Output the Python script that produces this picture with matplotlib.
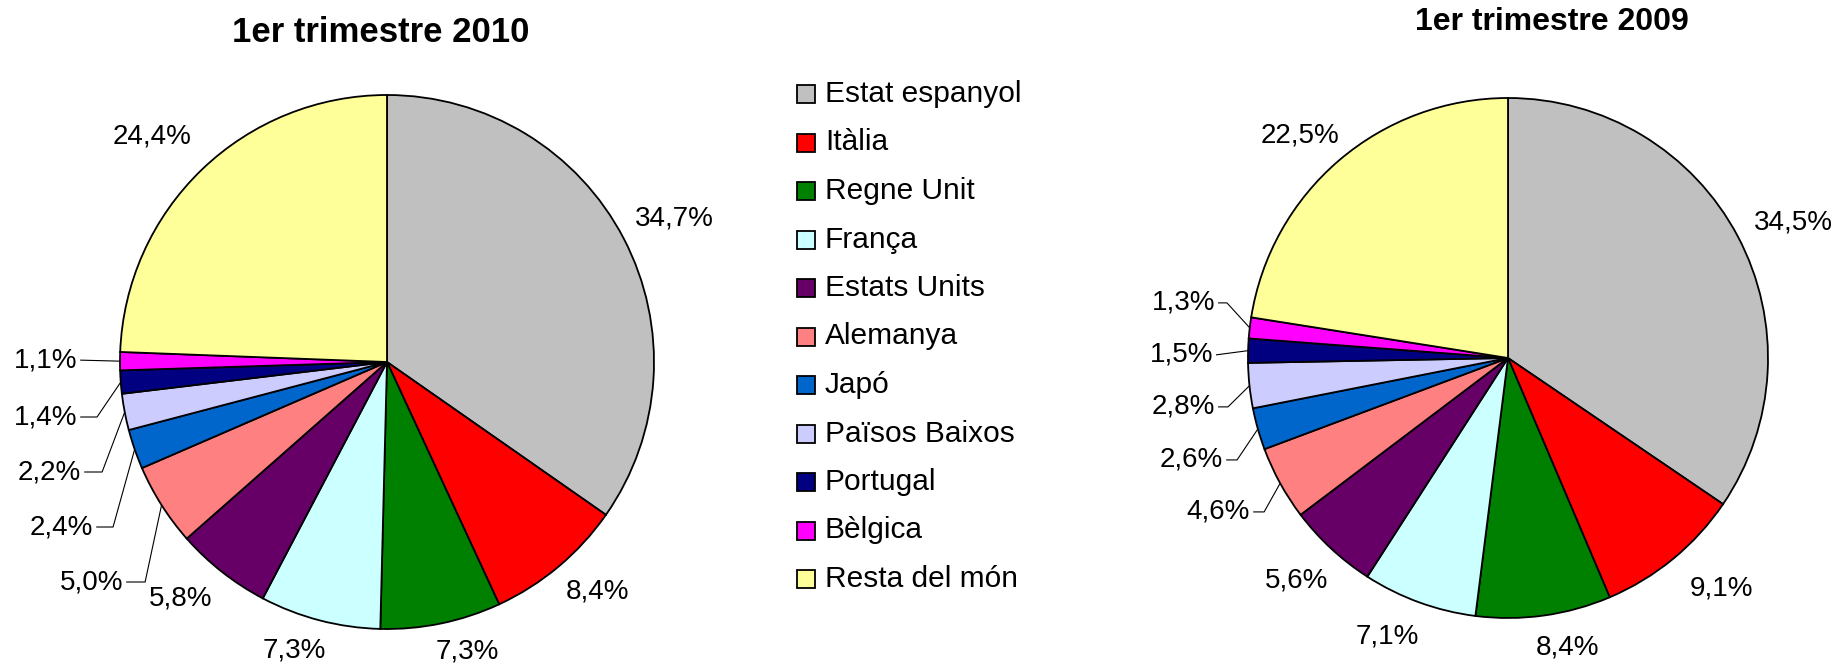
import numpy as np
import matplotlib
matplotlib.use("Agg")
import matplotlib.pyplot as plt
from matplotlib.patches import Rectangle
from matplotlib import font_manager

# ---------------- data ----------------
categories = ["Estat espanyol", "Itàlia", "Regne Unit", "França", "Estats Units",
              "Alemanya", "Japó", "Països Baixos", "Portugal", "Bèlgica", "Resta del món"]
values_2010 = [34.7, 8.4, 7.3, 7.3, 5.8, 5.0, 2.4, 2.2, 1.4, 1.1, 24.4]
values_2009 = [34.5, 9.1, 8.4, 7.1, 5.6, 4.6, 2.6, 2.8, 1.5, 1.3, 22.5]
title_2010 = "1er trimestre 2010"
title_2009 = "1er trimestre 2009"

colors = ["#C0C0C0", "#FF0000", "#008000", "#CCFFFF", "#660066",
          "#FF8080", "#0066CC", "#CCCCFF", "#000080", "#FF00FF", "#FFFF99"]

# ---------------- layout ----------------
W, H = 1839, 665
fig = plt.figure(figsize=(W / 100, H / 100), dpi=100)
ax = fig.add_axes([0, 0, 1, 1])

names = {f.name for f in font_manager.fontManager.ttflist}
narrow = "Liberation Sans Narrow" if "Liberation Sans Narrow" in names else "Liberation Sans"
FONT = ["Liberation Sans", "DejaVu Sans"]

def fmt(v):
    return f"{v:.1f}".replace(".", ",") + "%"

# label layouts in units of radius relative to pie centre
# big labels: (dx, dy) centre of text
# leader labels: (text_right_x, y, elbow_x)
layout_2010 = {
    0: ("c", 1.075, 0.536), 1: ("c", 0.790, -0.861), 2: ("c", 0.300, -1.086),
    3: ("c", -0.348, -1.079), 4: ("c", -0.772, -0.884), 10: ("c", -0.880, 0.843),
    5: ("l", -0.989, -0.824, -0.906), 6: ("l", -1.101, -0.618, -1.026),
    7: ("l", -1.146, -0.412, -1.067), 8: ("l", -1.161, -0.206, -1.086),
    9: ("l", -1.161, 0.007, None),
}
layout_2009 = {
    0: ("c", 1.096, 0.523), 1: ("c", 0.823, -0.888), 2: ("c", 0.227, -1.115),
    3: ("c", -0.465, -1.073), 4: ("c", -0.815, -0.856), 10: ("c", -0.800, 0.854),
    5: ("l", -0.992, -0.592, -0.938), 6: ("l", -1.096, -0.392, -1.042),
    7: ("l", -1.127, -0.188, -1.077), 8: ("l", -1.135, 0.012, None),
    9: ("l", -1.127, 0.212, -1.081),
}

def draw_pie(values, cx, cy, r, layout):
    ax.pie(values, colors=colors, startangle=90, counterclock=False,
           center=(cx, cy), radius=r,
           wedgeprops=dict(edgecolor="black", linewidth=1.3))
    vals = np.array(values, dtype=float)
    cum = np.cumsum(vals)
    mids = 90 - 360 * (cum - vals / 2) / vals.sum()
    for i, v in enumerate(values):
        spec = layout[i]
        if spec[0] == "c":
            ax.text(cx + r * spec[1], cy + r * spec[2], fmt(v), ha="center", va="center",
                    fontsize=20, family=FONT, color="black")
        else:
            tx, ty, ex = spec[1], spec[2], spec[3]
            a = np.deg2rad(mids[i])
            px, py = cx + r * np.cos(a), cy + r * np.sin(a)
            ax.text(cx + r * tx, cy + r * ty, fmt(v), ha="right", va="center",
                    fontsize=20, family=FONT, color="black")
            xs = [cx + r * (tx + 0.012)]
            ys = [cy + r * ty]
            if ex is not None:
                xs.append(cx + r * ex)
                ys.append(cy + r * ty)
            xs.append(px)
            ys.append(py)
            ax.plot(xs, ys, color="black", linewidth=0.8, solid_capstyle="butt")

draw_pie(values_2010, 387, H - 362, 267, layout_2010)
draw_pie(values_2009, 1508, H - 358, 260, layout_2009)

# titles
ax.text(381, H - 33, title_2010, ha="center", va="center", fontsize=25,
        fontweight="bold", family=[narrow, "DejaVu Sans"])
ax.text(1552, H - 22, title_2009, ha="center", va="center", fontsize=23,
        fontweight="bold", family=FONT)

# legend
for i, name in enumerate(categories):
    y = H - (94 + 48.5 * i)
    ax.add_patch(Rectangle((797, y - 9), 18, 18, facecolor=colors[i],
                           edgecolor="black", linewidth=1.3))
    ax.text(825, y, name, ha="left", va="center", fontsize=21.5, family=FONT)

ax.set_xlim(0, W)
ax.set_ylim(0, H)
ax.set_aspect("auto")
ax.axis("off")
fig.savefig("out.png", dpi=100, facecolor="white")
